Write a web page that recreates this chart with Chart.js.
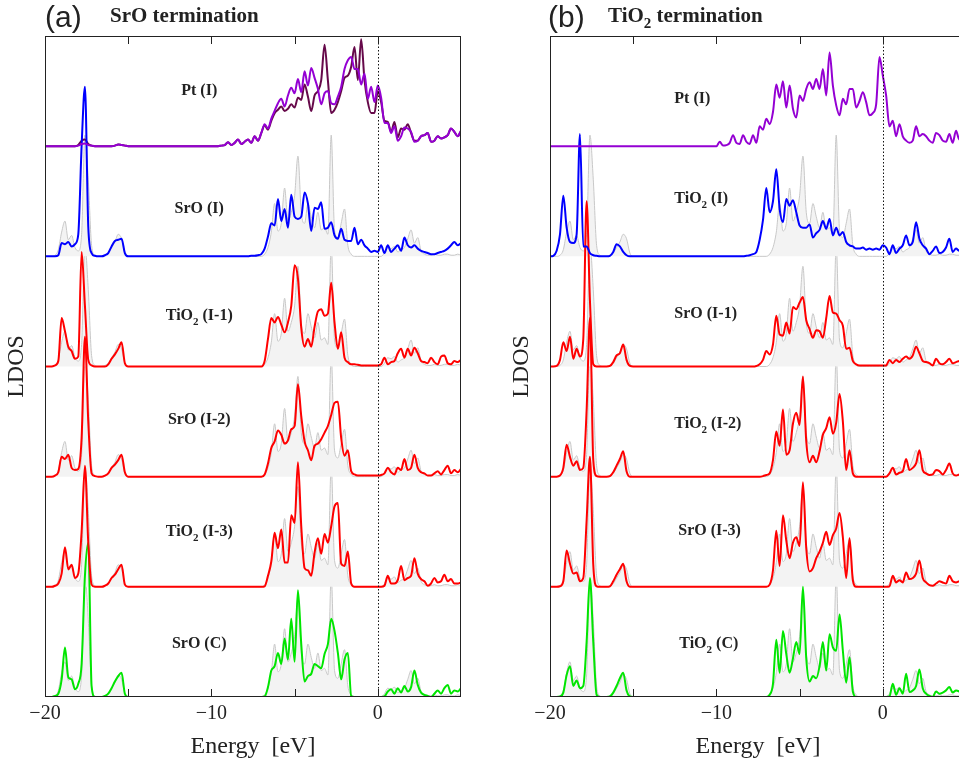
<!DOCTYPE html>
<html>
<head>
<meta charset="utf-8">
<title>LDOS</title>
<script src="https://cdn.jsdelivr.net/npm/chart.js@4"></script>
<style>
  html, body { margin: 0; padding: 0; background: #fff; overflow: hidden; }
  body { position: relative; width: 959px; height: 762px; }
  canvas { position: absolute; top: 0; }
  #panelA { left: 0; }
  #panelB { left: 505px; }
</style>
</head>
<body>
<canvas id="panelA" width="480" height="762"></canvas>
<canvas id="panelB" width="480" height="762"></canvas>
<script>
// energy grid (eV), Fermi level at 0
const energy = [
  -20.0,-19.8,-19.6,-19.4,-19.2,-19.0,-18.8,-18.6,-18.4,-18.2,
  -18.0,-17.8,-17.6,-17.4,-17.2,-17.0,-16.8,-16.6,-16.4,-16.2,
  -16.0,-15.8,-15.6,-15.4,-15.2,-15.0,-14.8,-14.6,-14.4,-14.2,
  -14.0,-13.8,-13.6,-13.4,-13.2,-13.0,-12.8,-12.6,-12.4,-12.2,
  -12.0,-11.8,-11.6,-11.4,-11.2,-11.0,-10.8,-10.6,-10.4,-10.2,
  -10.0,-9.8,-9.6,-9.4,-9.2,-9.0,-8.8,-8.6,-8.4,-8.2,
  -8.0,-7.8,-7.6,-7.4,-7.2,-7.0,-6.8,-6.6,-6.4,-6.2,
  -6.0,-5.8,-5.6,-5.4,-5.2,-5.0,-4.8,-4.6,-4.4,-4.2,
  -4.0,-3.8,-3.6,-3.4,-3.2,-3.0,-2.8,-2.6,-2.4,-2.2,
  -2.0,-1.8,-1.6,-1.4,-1.2,-1.0,-0.8,-0.6,-0.4,-0.2,
  0.0,0.2,0.4,0.6,0.8,1.0,1.2,1.4,1.6,1.8,
  2.0,2.2,2.4,2.6,2.8,3.0,3.2,3.4,3.6,3.8,
  4.0,4.2,4.4,4.6,4.8,5.0
];

// bulk reference LDOS (grey, filled)
const bulk = [
  0,0,0,0.1,0.6,2.2,3.2,1.5,1.9,0.8,
  0.5,2.0,11.0,7.0,1.0,0.1,0,0,0.1,0.3,
  0.8,1.3,2.0,1.6,0.3,0,0,0,0,0,
  0,0,0,0,0,0,0,0,0,0,
  0,0,0,0,0,0,0,0,0,0,
  0,0,0,0,0,0,0,0,0,0,
  0,0,0,0,0,0,0.2,0.8,2.2,4.8,
  2.3,3.0,6.2,3.2,4.0,5.5,9.1,4.0,3.0,4.8,
  3.6,2.6,4.0,2.4,2.6,2.0,11.0,2.4,1.7,3.0,
  4.3,1.0,0.2,0,0,0,0,0,0,0,
  0,0,0.3,0.8,0.7,0.9,0.4,0.6,0.8,1.6,
  2.4,1.2,1.7,0.5,0.2,0.1,0.1,0.2,0.1,0.1,
  0.2,0.2,0.1,0.1,0.2,0.1
];

// (a) SrO termination
const ptA = [
  0,0,0,0,0,0,0,0,0,0,
  0.05,0.2,0.25,0.1,0.05,0,0,0,0,0,
  0,0.05,0.15,0.1,0.05,0,0,0,0,0,
  0,0,0,0,0,0,0,0,0,0,
  0,0,0,0,0,0,0,0,0,0,
  0,0,0,0.05,0.1,0.35,0.1,0.3,0.6,0.2,
  0.4,0.6,0.3,0.9,0.5,1.2,2.0,1.6,2.5,3.2,
  3.9,4.3,3.6,4.6,5.3,4.8,6.1,4.9,6.8,5.5,
  7.1,6.2,5.2,3.8,4.8,5.0,3.9,3.8,4.5,5.4,
  7.0,7.8,8.1,7.0,7.0,5.6,6.6,4.3,5.4,4.0,
  5.5,4.4,2.1,2.1,1.2,1.8,0.5,0.9,1.7,1.6,
  1.3,0.4,0.5,0.9,1.0,1.2,0.4,0.5,0.9,0.7,
  0.8,1.0,1.6,1.3,0.9,1.4
];
const ptDarkA = [
  0,0,0,0,0,0,0,0,0,0,
  0.1,0.5,0.6,0.2,0.05,0,0,0,0,0,
  0,0.05,0.15,0.1,0.05,0,0,0,0,0,
  0,0,0,0,0,0,0,0,0,0,
  0,0,0,0,0,0,0,0,0,0,
  0,0,0,0.05,0.1,0.35,0.1,0.3,0.6,0.2,
  0.4,0.6,0.3,0.9,0.5,1.2,1.9,1.5,2.3,3.0,
  3.3,3.6,3.2,3.4,3.8,3.5,4.4,4.2,5.6,4.5,
  3.2,4.6,5.0,6.0,9.2,6.0,3.0,3.3,4.0,5.0,
  6.2,6.4,7.2,9.0,6.0,9.7,6.0,4.0,3.0,3.0,
  5.0,4.0,2.3,2.2,1.3,2.2,0.8,1.6,1.5,2.0,
  1.2,0.5,0.5,0.9,1.0,1.2,0.4,0.5,0.9,0.7,
  0.8,1.0,1.6,1.3,0.9,1.4
];
const srOIA = [
  0,0,0,0,0.1,1.2,1.1,1.3,0.9,1.1,
  2.0,10.0,15.4,2.7,0.3,0.05,0,0,0.1,0.3,
  0.9,1.4,1.5,1.6,0.3,0,0,0,0,0,
  0,0,0,0,0,0,0,0,0,0,
  0,0,0,0,0,0,0,0,0,0,
  0,0,0,0,0,0,0,0,0,0,
  0,0,0.05,0.05,0.1,0.2,0.7,1.8,3.0,2.8,
  5.2,3.2,4.3,2.6,5.6,3.6,3.4,3.6,5.8,4.8,
  2.3,4.4,4.3,4.9,2.5,2.6,3.1,1.9,1.6,2.5,
  1.5,1.4,1.4,2.6,1.1,1.5,1.0,0.7,0.4,0.5,
  0.4,1.0,0.3,1.0,0.4,0.7,1.0,0.5,1.7,1.0,
  0.8,1.0,0.7,0.5,0.4,0.3,0.2,0.2,0.3,0.4,
  0.5,0.7,1.0,1.3,1.0,1.2
];
const tiO2I1A = [
  0,0,0,0.1,0.5,4.4,3.2,1.8,1.4,0.7,
  0.9,10.4,5.5,0.6,0.1,0,0,0,0,0.2,
  0.7,1.1,1.6,2.2,0.3,0,0,0,0,0,
  0,0,0,0,0,0,0,0,0,0,
  0,0,0,0,0,0,0,0,0,0,
  0,0,0,0,0,0,0,0,0,0,
  0,0,0,0,0,0,0.5,2.5,4.4,4.0,
  4.5,3.8,3.1,4.0,5.5,9.2,8.0,3.5,1.8,2.5,
  1.8,3.6,5.0,5.2,4.6,4.8,7.6,4.0,1.6,3.1,
  0.8,0.4,0.2,0.2,0.15,0.1,0.1,0.1,0.1,0.1,
  0.1,0.2,0.8,0.2,0.4,0.5,1.2,1.6,0.8,1.6,
  1.0,1.7,1.2,0.5,0.4,0.3,0.8,0.4,0.2,0.9,
  1.0,0.3,0.2,0.5,0.4,0.6
];
const srOI2A = [
  0,0,0,0.1,0.4,1.8,1.6,2.0,0.8,0.6,
  0.7,3.5,12.7,5.0,0.3,0.05,0,0,0.1,0.3,
  0.8,1.1,1.5,2.0,0.4,0,0,0,0,0,
  0,0,0,0,0,0,0,0,0,0,
  0,0,0,0,0,0,0,0,0,0,
  0,0,0,0,0,0,0,0,0,0,
  0,0,0,0,0,0,0.2,1.2,2.6,3.2,
  4.2,3.8,3.0,3.3,4.3,4.6,8.4,5.5,3.2,2.4,
  1.5,2.8,3.0,3.4,4.0,4.6,5.6,6.7,6.8,3.5,
  1.9,2.4,0.5,0.2,0.1,0.1,0.1,0.1,0.1,0.1,
  0.1,0.15,0.3,0.8,0.4,0.2,0.8,0.6,1.6,0.6,
  0.8,2.0,0.8,0.4,0.3,0.1,0.1,0.3,0.5,0.2,
  0.6,1.0,0.3,0.6,0.4,0.7
];
const tiO2I3A = [
  0,0,0,0.1,0.3,1.2,3.6,1.6,2.0,0.8,
  1.2,5.0,11.0,4.0,0.2,0,0,0,0.1,0.3,
  0.8,1.1,1.6,2.0,0.2,0,0,0,0,0,
  0,0,0,0,0,0,0,0,0,0,
  0,0,0,0,0,0,0,0,0,0,
  0,0,0,0,0,0,0,0,0,0,
  0,0,0,0,0,0,0.05,1.0,2.3,4.9,
  3.5,5.2,2.2,2.2,6.5,5.8,11.3,5.5,1.7,1.5,
  1.0,3.1,4.4,3.0,4.8,4.0,5.5,7.3,7.6,2.1,
  1.9,3.2,0.3,0,0,0,0,0,0,0,
  0,0,0.1,1.0,0.3,0.3,0.6,1.9,0.6,0.8,
  1.0,2.6,1.2,0.7,0.5,0.1,0.3,0.8,0.4,0.5,
  1.1,0.5,0.7,0.3,0.3,0.4
];
const srOCA = [
  0,0,0,0.1,0.3,1.6,4.5,1.8,1.6,0.7,
  1.2,3.0,11.0,14.0,1.0,0,0,0,0.1,0.3,
  0.8,1.4,1.9,2.2,0.3,0,0,0,0,0,
  0,0,0,0,0,0,0,0,0,0,
  0,0,0,0,0,0,0,0,0,0,
  0,0,0,0,0,0,0,0,0,0,
  0,0,0,0,0,0,0.05,0.9,2.4,2.8,
  4.0,3.0,5.3,3.4,7.1,3.2,9.7,4.8,1.4,1.9,
  2.1,3.0,2.8,2.6,3.9,4.8,7.1,6.0,4.0,1.6,
  3.4,4.0,0.1,0,0,0,0,0,0,0,
  0,0,0.05,0.5,0.7,0.3,0.8,0.4,1.0,0.5,
  0.9,2.4,1.1,0.4,0.2,0.1,0,0.3,0.6,0.3,
  0.8,1.1,0.3,0.6,0.5,0.8
];

// (b) TiO2 termination
const ptB = [
  0,0,0,0,0,0,0,0,0,0,
  0,0,0,0,0,0,0,0,0,0,
  0,0,0,0,0,0,0,0,0,0,
  0,0,0,0,0,0,0,0,0,0,
  0,0,0,0,0,0,0,0,0,0,
  0,0.4,0.05,0.1,0.3,1.0,0.3,0.2,1.0,0.4,
  0.2,1.0,0.3,1.8,1.5,2.5,2.0,3.1,5.6,4.4,
  5.9,3.5,5.5,3.4,2.6,4.6,4.1,5.2,5.8,5.2,
  6.1,5.2,7.0,4.6,8.5,5.5,3.7,2.8,4.3,3.8,
  5.2,5.2,3.5,4.1,4.9,4.0,2.8,3.0,3.8,8.1,
  6.4,4.6,1.8,2.3,0.9,2.0,0.9,0.5,0.3,0.5,
  1.8,0.9,1.1,0.9,0.5,0.3,1.2,1.0,0.5,0.4,
  1.1,0.3,1.4,0.6,1.0,0.8
];
const tiO2IB = [
  0,0.05,0.5,2.0,5.5,2.6,1.3,1.2,2.0,11.1,
  0.9,0.9,0.3,0.1,0.05,0,0,0,0.05,0.4,
  1.1,0.9,0.4,0.1,0,0,0,0,0,0,
  0,0,0,0,0,0,0,0,0,0,
  0,0,0,0,0,0,0,0,0,0,
  0,0,0,0,0,0,0,0,0,0.05,
  0.1,0.2,0.4,1.5,3.3,6.2,4.0,5.0,7.9,4.3,
  3.1,5.2,4.6,5.1,4.0,2.8,2.6,2.6,2.9,1.7,
  2.1,2.4,3.2,2.5,3.4,1.9,2.6,1.9,2.2,1.3,
  1.0,0.9,0.7,0.7,0.8,0.6,0.7,0.6,0.7,0.6,
  1.0,0.8,0.2,1.0,0.3,0.7,1.0,1.9,1.0,1.3,
  3.1,1.6,1.0,0.7,0.2,0.5,0.9,0.3,0.4,0.8,
  1.6,0.4,0.7,0.5,0.6,0.5
];
const srOI1B = [
  0,0,0.05,0.6,2.2,1.4,2.7,0.7,1.6,0.9,
  2.5,15.0,6.0,0.2,0,0,0,0,0.05,0.4,
  1.0,1.2,2.0,0.6,0.05,0,0,0,0,0,
  0,0,0,0,0,0,0,0,0,0,
  0,0,0,0,0,0,0,0,0,0,
  0,0,0,0,0,0,0,0,0,0,
  0,0,0.05,0.2,0.6,1.4,1.1,2.0,4.6,2.9,
  2.8,4.0,3.0,5.4,5.2,5.8,6.3,4.2,3.4,2.6,
  3.3,3.2,2.6,4.4,6.4,4.9,4.8,4.2,3.7,1.6,
  1.7,0.5,0.2,0.1,0.1,0.1,0.1,0.1,0.1,0.1,
  0.1,0.1,0.6,0.3,0.6,0.4,0.7,0.9,0.7,1.0,
  1.8,1.2,0.5,0.4,0.3,0.1,0.7,0.3,0.2,0.4,
  0.7,0.3,0.4,0.5,0.3,0.4
];
const tiO2I2B = [
  0,0,0,0.1,0.8,2.9,1.8,1.0,1.4,0.6,
  0.8,6.0,14.4,1.5,0.05,0,0,0,0.05,0.4,
  1.0,1.6,2.3,0.5,0,0,0,0,0,0,
  0,0,0,0,0,0,0,0,0,0,
  0,0,0,0,0,0,0,0,0,0,
  0,0,0,0,0,0,0,0,0,0,
  0,0,0,0,0.05,0.15,0.3,1.5,4.1,2.8,
  6.1,2.0,2.4,4.8,5.8,4.7,9.1,3.2,1.3,1.9,
  1.3,2.3,3.8,4.4,5.4,3.9,4.9,7.5,5.0,0.6,
  2.4,0.3,0,0,0,0,0,0,0,0,
  0,0,0.3,0.8,0.2,0.35,0.5,1.6,0.6,0.8,
  1.2,2.4,0.6,0.3,0.15,0.2,0.6,0.5,0.2,0.6,
  1.2,0.3,0.1,0.2,0.3,0.2
];
const srOI3B = [
  0,0,0,0.05,0.5,3.3,2.1,1.2,1.3,0.5,
  0.8,6.0,11.8,2.0,0.05,0,0,0,0.05,0.5,
  1.1,1.6,2.1,0.5,0,0,0,0,0,0,
  0,0,0,0,0,0,0,0,0,0,
  0,0,0,0,0,0,0,0,0,0,
  0,0,0,0,0,0,0,0,0,0,
  0,0,0,0,0,0,0.2,1.5,5.1,1.9,
  6.5,4.2,2.6,4.0,4.5,3.7,9.5,3.5,1.4,1.7,
  2.6,3.2,4.0,5.0,3.8,4.7,5.3,6.7,4.5,0.8,
  4.4,0.6,0,0,0,0,0,0,0,0,
  0,0,0.05,1.0,0.4,0.6,0.4,1.3,0.7,0.8,
  1.2,2.4,0.8,0.4,0.15,0.1,0.3,0.5,0.4,0.3,
  1.0,0.5,0.4,0.5,0.3,0.4
];
const tiO2CB = [
  0,0,0,0.05,0.4,2.0,2.8,1.0,1.5,0.8,
  1.0,5.0,10.8,5.0,0.2,0,0,0,0.05,0.4,
  1.0,1.7,2.2,0.6,0.05,0,0,0,0,0,
  0,0,0,0,0,0,0,0,0,0,
  0,0,0,0,0,0,0,0,0,0,
  0,0,0,0,0,0,0,0,0,0,
  0,0,0,0,0,0,0.2,1.2,5.2,2.2,
  6.0,3.9,2.2,3.5,5.0,3.9,10.0,3.5,1.4,1.9,
  1.7,2.8,5.0,2.4,5.7,4.5,4.2,7.5,4.2,1.3,
  3.6,0.5,0,0,0,0,0,0,0,0,
  0,0,0.05,1.2,0.2,0.8,0.3,2.1,0.45,0.6,
  1.0,2.5,0.8,0.3,0.1,0,0.5,0.3,0.4,0.6,
  0.9,0.4,0.6,0.5,0.3,0.4
];

const labelsA = ['Pt (I)', 'SrO (I)', 'TiO_2 (I-1)', 'SrO (I-2)', 'TiO_2 (I-3)', 'SrO (C)'];
const labelsB = ['Pt (I)', 'TiO_2 (I)', 'SrO (I-1)', 'TiO_2 (I-2)', 'SrO (I-3)', 'TiO_2 (C)'];
const labeledTicks = [-20, -10, 0];
const tickMarks = [-15, -10, -5, 0];

// each layer is shifted up by one band
const bandStep = 10;
const offsets = [5, 4, 3, 2, 1, 0].map(k => k * bandStep);

const SERIF = '"Liberation Serif", "Times New Roman", serif';
const SANS = '"Liberation Sans", Arial, sans-serif';
const INK = '#222';
const PURPLE = '#9400d3', PLUM = '#66094a', BLUE = '#0000ff', RED = '#ff0000', GREEN = '#00e600';

function curve(values, offset, color, order) {
  return {
    data: energy.map((e, i) => ({ x: e, y: values[i] + offset })),
    borderColor: color,
    borderWidth: 2,
    pointRadius: 0,
    fill: false,
    cubicInterpolationMode: 'monotone',
    order: order
  };
}

function bulkCurve(offset) {
  return {
    data: energy.map((e, i) => ({ x: e, y: bulk[i] + offset })),
    borderColor: '#c8c8c8',
    backgroundColor: '#f3f3f3',
    borderWidth: 1,
    pointRadius: 0,
    fill: { value: offset },
    cubicInterpolationMode: 'monotone',
    order: 10
  };
}

// text with "_2" style subscripts
function drawRich(ctx, text, x, baseline, size, weight, align) {
  const parts = text.split(/_(\d)/);
  const main = `${weight} ${size}px ${SERIF}`;
  const sub = `${weight} ${Math.round(size * 0.7)}px ${SERIF}`;
  let width = 0;
  parts.forEach((p, i) => { ctx.font = i % 2 ? sub : main; width += ctx.measureText(p).width; });
  let cx = align === 'center' ? x - width / 2 : x;
  ctx.textAlign = 'left';
  ctx.textBaseline = 'alphabetic';
  parts.forEach((p, i) => {
    ctx.font = i % 2 ? sub : main;
    ctx.fillText(p, cx, i % 2 ? baseline + size * 0.3 : baseline);
    cx += ctx.measureText(p).width;
  });
}

const decorations = {
  id: 'decorations',
  afterDatasetsDraw(chart, args, opts) {
    const { ctx, chartArea: area, scales: { x, y } } = chart;
    ctx.save();
    ctx.lineWidth = 1;
    // Fermi level
    const xf = Math.round(x.getPixelForValue(0)) + 0.5;
    ctx.strokeStyle = '#111';
    ctx.setLineDash([1.5, 2]);
    ctx.beginPath();
    ctx.moveTo(xf, area.top);
    ctx.lineTo(xf, area.bottom);
    ctx.stroke();
    ctx.setLineDash([]);
    // frame and inward ticks
    ctx.strokeStyle = INK;
    ctx.strokeRect(area.left + 0.5, area.top + 0.5, area.width - 1, area.height - 1);
    ctx.beginPath();
    tickMarks.forEach(v => {
      const px = Math.round(x.getPixelForValue(v)) + 0.5;
      ctx.moveTo(px, area.top); ctx.lineTo(px, area.top + 8);
      ctx.moveTo(px, area.bottom); ctx.lineTo(px, area.bottom - 8);
    });
    ctx.stroke();
    // layer names
    ctx.fillStyle = INK;
    opts.labels.forEach((t, i) => {
      drawRich(ctx, t, x.getPixelForValue(opts.labelX[i]), y.getPixelForValue(opts.labelY[i]) + 5.3, 16, 'bold', opts.align);
    });
    // panel tag and heading
    ctx.font = `30px ${SANS}`;
    ctx.textAlign = 'left';
    ctx.textBaseline = 'alphabetic';
    ctx.fillText(opts.tag, opts.tagX, 27);
    drawRich(ctx, opts.heading, opts.headingX, 22, 21, 'bold', 'left');
    ctx.restore();
  }
};

function makePanel(id, datasets, deco) {
  return new Chart(document.getElementById(id), {
    type: 'line',
    data: { datasets: datasets },
    options: {
      responsive: false,
      animation: false,
      devicePixelRatio: 1,
      layout: { padding: { top: 36, right: 19, left: 0, bottom: 0 } },
      plugins: {
        legend: { display: false },
        tooltip: { enabled: false },
        decorations: deco
      },
      scales: {
        x: {
          type: 'linear',
          min: -20,
          max: 5,
          afterBuildTicks: axis => { axis.ticks = labeledTicks.map(v => ({ value: v })); },
          afterFit: axis => { axis.height = 65; },
          grid: { display: false, drawTicks: false },
          border: { display: false },
          ticks: {
            padding: 5,
            color: INK,
            font: { family: SERIF, size: 20 },
            callback: v => (v < 0 ? '\u2212' + Math.abs(v) : String(v))
          },
          title: {
            display: true,
            text: 'Energy  [eV]',
            color: INK,
            font: { family: SERIF, size: 24 },
            padding: { top: 0, bottom: 1 }
          }
        },
        y: {
          min: 0,
          max: 60,
          afterFit: axis => { axis.width = 45; },
          grid: { display: false, drawTicks: false },
          border: { display: false },
          ticks: { display: false },
          title: {
            display: true,
            text: 'LDOS',
            color: INK,
            font: { family: SERIF, size: 24 },
            padding: { top: 2, bottom: 0 }
          }
        }
      }
    },
    plugins: [decorations]
  });
}

makePanel('panelA', [
  bulkCurve(offsets[1]), bulkCurve(offsets[2]), bulkCurve(offsets[3]), bulkCurve(offsets[4]), bulkCurve(offsets[5]),
  curve(ptA, offsets[0], PURPLE, 1),
  curve(ptDarkA, offsets[0], PLUM, 2),
  curve(srOIA, offsets[1], BLUE, 1),
  curve(tiO2I1A, offsets[2], RED, 1),
  curve(srOI2A, offsets[3], RED, 1),
  curve(tiO2I3A, offsets[4], RED, 1),
  curve(srOCA, offsets[5], GREEN, 1)
], {
  labels: labelsA,
  labelX: [-10.73, -10.73, -10.73, -10.73, -10.73, -10.73],
  labelY: [55.1, 44.4, 34.7, 25.3, 15.1, 4.9],
  align: 'center',
  tag: '(a)', tagX: 45,
  heading: 'SrO termination', headingX: 110
});

makePanel('panelB', [
  bulkCurve(offsets[1]), bulkCurve(offsets[2]), bulkCurve(offsets[3]), bulkCurve(offsets[4]), bulkCurve(offsets[5]),
  curve(ptB, offsets[0], PURPLE, 1),
  curve(tiO2IB, offsets[1], BLUE, 1),
  curve(srOI1B, offsets[2], RED, 1),
  curve(tiO2I2B, offsets[3], RED, 1),
  curve(srOI3B, offsets[4], RED, 1),
  curve(tiO2CB, offsets[5], GREEN, 1)
], {
  labels: labelsB,
  labelX: [-12.53, -12.53, -12.53, -12.53, -12.29, -12.23],
  labelY: [54.4, 45.3, 34.9, 24.9, 15.2, 4.9],
  align: 'left',
  tag: '(b)', tagX: 43,
  heading: 'TiO_2 termination', headingX: 103
});
</script>
</body>
</html>
